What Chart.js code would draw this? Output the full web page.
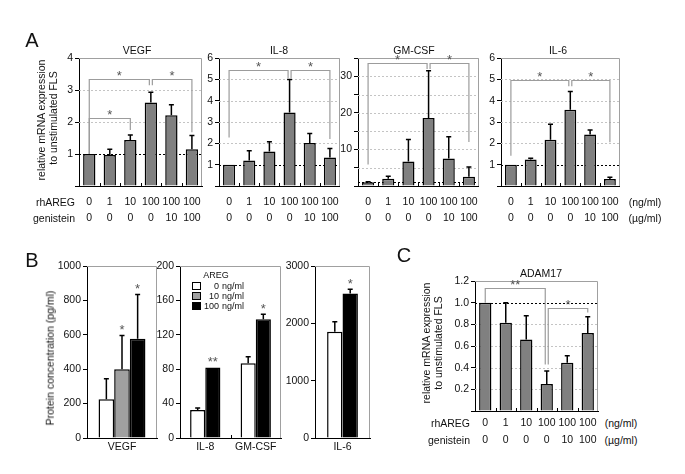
<!DOCTYPE html>
<html>
<head>
<meta charset="utf-8">
<title>AREG figure</title>
<script src="https://cdn.jsdelivr.net/npm/chart.js@4.4.1/dist/chart.umd.min.js"></script>
<style>
  html, body { margin: 0; padding: 0; background: #fff; }
  #fig { position: relative; width: 685px; height: 474px; overflow: hidden;
         font-family: Arial, "Liberation Sans", sans-serif; color: #111; }
  #fig canvas { position: absolute; }
  .txt { position: absolute; white-space: nowrap; line-height: 1; font-size: 10.5px; }
  .letter { font-size: 20px; }
  .small { font-size: 9px; }
  .key { position: absolute; width: 7px; height: 6px; border: 1px solid #000; }
</style>
</head>
<body>
<div id="fig"></div>
<script>
// ---- data: panel A / C (mRNA, fold of unstimulated FLS) ----
const rhAREG    = ['0', '1', '10', '100', '100', '100'];
const genistein = ['0', '0', '0', '0', '10', '100'];

const vegfMrna  = [1.0, 0.97, 1.44, 2.61, 2.21, 1.15];
const vegfSd    = [0, 0.18, 0.15, 0.32, 0.33, 0.43];
const il8Mrna   = [1.0, 1.19, 1.62, 3.44, 2.01, 1.34];
const il8Sd     = [0, 0.46, 0.45, 1.55, 0.45, 0.42];
const gmcsfMrna = [1.0, 2.0, 6.7, 18.6, 7.5, 2.55];
const gmcsfSd   = [0.15, 0.7, 6.0, 12.9, 6.0, 2.65];
const il6Mrna   = [1.0, 1.24, 2.17, 3.58, 2.41, 0.33];
const il6Sd     = [0, 0.06, 0.73, 0.85, 0.22, 0.08];
const adam17Mrna = [1.0, 0.815, 0.66, 0.25, 0.445, 0.72];
const adam17Sd   = [0, 0.185, 0.22, 0.12, 0.065, 0.15];

// significance brackets: [fromBar, toBar, topValue, fromEndValue, toEndValue, mark]
const vegfBrackets  = [[0, 3, 3.33, 1.0, 3.15, '*'], [3, 5, 3.33, 3.15, 1.68, '*'], [0, 2, 2.13, 1.0, 1.75, '*']];
const il8Brackets   = [[0, 3, 5.42, 2.27, 5.06, '*'], [3, 5, 5.42, 5.06, 2.2, '*']];
const gmcsfBrackets = [[0, 3, 33.6, 5.9, 32.0, '*'], [3, 5, 33.6, 32.0, 12.0, '*']];
const il6Brackets   = [[0, 3, 4.98, 1.42, 4.68, '*'], [3, 5, 4.98, 4.68, 2.05, '*']];
const adam17Brackets = [[0, 3, 1.14, 1.0, 0.43, '**'], [3, 5, 0.95, 0.43, 0.91, '*']];

// ---- data: panel B (protein, pg/ml) ----
const aregDoses = ['0', '10', '100'];
const protVegf0 = [225],  protVegf0Sd = [120];
const protVegf10 = [400], protVegf10Sd = [196];
const protVegf100 = [577], protVegf100Sd = [258];
const cytoNames = ['IL-8', 'GM-CSF'];
const protCyto0 = [32.5, 87],  protCyto0Sd = [2.5, 7.5];
const protCyto10 = [null, null];
const protCyto100 = [82, 138], protCyto100Sd = [0, 6];
const protIl6_0 = [1853], protIl6_0Sd = [175];
const protIl6_10 = [null];
const protIl6_100 = [2522], protIl6_100Sd = [72];

Chart.defaults.font.family = 'Arial, "Liberation Sans", sans-serif';
Chart.defaults.font.size = 10.5;
Chart.defaults.color = '#111';

const fig = document.getElementById('fig');
const YW = 40, PT = 12, PR = 4;

function text(str, x, y, cls, align, rotate) {
  const d = document.createElement('div');
  d.className = 'txt ' + (cls || '');
  d.textContent = str;
  d.style.left = x + 'px';
  d.style.top = y + 'px';
  const tx = align === 'right' ? '-100%' : align === 'left' ? '0' : '-50%';
  d.style.transform = 'translate(' + tx + ', -50%)' + (rotate ? ' rotate(-90deg)' : '');
  fig.appendChild(d);
}

// frame, grid, reference line, error bars, brackets and stars
function extras(cfg) {
  return {
    id: 'extras',
    beforeDatasetsDraw(chart) {
      const { ctx, chartArea: a, scales: { y } } = chart;
      ctx.save();
      if (cfg.grid) {
        ctx.strokeStyle = '#c4c4c4';
        ctx.lineWidth = 1;
        ctx.setLineDash([2, 2]);
        y.ticks.forEach(t => {
          if (t.value === 0 || t.value === cfg.ref) return;
          const yy = Math.round(y.getPixelForValue(t.value)) + 0.5;
          ctx.beginPath(); ctx.moveTo(a.left, yy); ctx.lineTo(a.right, yy); ctx.stroke();
        });
      }
      if (cfg.ref != null) {
        const yy = Math.round(y.getPixelForValue(cfg.ref)) + 0.5;
        ctx.strokeStyle = '#000';
        ctx.setLineDash([2, 2]);
        ctx.beginPath(); ctx.moveTo(a.left, yy); ctx.lineTo(a.right, yy); ctx.stroke();
      }
      ctx.restore();
    },
    afterDatasetsDraw(chart) {
      const { ctx, chartArea: a, scales: { x, y } } = chart;
      ctx.save();
      // grey top/right frame
      ctx.strokeStyle = '#a0a0a0';
      ctx.lineWidth = 1;
      ctx.beginPath();
      ctx.moveTo(a.left, Math.round(a.top) + 0.5);
      ctx.lineTo(Math.round(a.right) - 0.5, Math.round(a.top) + 0.5);
      ctx.lineTo(Math.round(a.right) - 0.5, a.bottom);
      ctx.stroke();

      // small inside ticks between categories
      ctx.strokeStyle = '#000';
      const n = chart.data.labels.length;
      for (let i = 1; i < n; i++) {
        const xx = Math.round((x.getPixelForValue(i - 1) + x.getPixelForValue(i)) / 2) + 0.5;
        ctx.beginPath(); ctx.moveTo(xx, a.bottom); ctx.lineTo(xx, a.bottom - 3); ctx.stroke();
      }

      // error bars (upper only) and significance marks
      chart.data.datasets.forEach((ds, di) => {
        const meta = chart.getDatasetMeta(di);
        meta.data.forEach((bar, i) => {
          if (ds.data[i] == null) return;
          const e = ds.err ? ds.err[i] : 0;
          const top = y.getPixelForValue(ds.data[i] + (e || 0));
          if (e) {
            ctx.strokeStyle = '#000';
            ctx.lineWidth = 1.5;
            ctx.beginPath();
            ctx.moveTo(bar.x, bar.y); ctx.lineTo(bar.x, top);
            ctx.moveTo(bar.x - 2.5, top); ctx.lineTo(bar.x + 2.5, top);
            ctx.stroke();
          }
          const s = ds.sig ? ds.sig[i] : '';
          if (s) {
            ctx.fillStyle = '#555';
            ctx.font = '13px Arial, "Liberation Sans", sans-serif';
            ctx.textAlign = 'center';
            ctx.textBaseline = 'alphabetic';
            ctx.fillText(s, bar.x, top - 8.5 + 0.57 * 13);
          }
        });
      });

      // brackets
      const br = cfg.brackets || [];
      br.forEach(b => {
        let xf = x.getPixelForValue(b[0]);
        let xt = x.getPixelForValue(b[1]);
        if (br.some(o => o !== b && o[0] === b[1])) xt -= 1.5;
        if (br.some(o => o !== b && o[1] === b[0])) xf += 1.5;
        const yt = Math.round(y.getPixelForValue(b[2])) + 0.5;
        ctx.strokeStyle = '#9c9c9c';
        ctx.lineWidth = 1.2;
        ctx.setLineDash([]);
        ctx.beginPath();
        ctx.moveTo(xf, y.getPixelForValue(b[3]));
        ctx.lineTo(xf, yt);
        ctx.lineTo(xt, yt);
        ctx.lineTo(xt, y.getPixelForValue(b[4]));
        ctx.stroke();
        ctx.fillStyle = '#555';
        ctx.font = '13px Arial, "Liberation Sans", sans-serif';
        ctx.textAlign = 'center';
        ctx.textBaseline = 'alphabetic';
        ctx.fillText(b[5], (xf + xt) / 2, yt - 6.5 + 0.57 * 13);
      });
      ctx.restore();
    }
  };
}

function makeChart(box, labels, datasets, yOpt, cfg) {
  const c = document.createElement('canvas');
  const left = box.l - YW, top = box.t - PT;
  const w = box.r - box.l + YW + PR, h = box.b - box.t + PT + cfg.xh;
  c.width = w; c.height = h;
  c.style.left = left + 'px'; c.style.top = top + 'px';
  c.style.width = w + 'px'; c.style.height = h + 'px';
  fig.appendChild(c);
  return new Chart(c, {
    type: 'bar',
    data: { labels, datasets },
    options: {
      responsive: false,
      animation: false,
      devicePixelRatio: 1,
      layout: { padding: { top: PT, right: PR, left: 0, bottom: 0 } },
      plugins: { legend: { display: false }, tooltip: { enabled: false } },
      datasets: { bar: { categoryPercentage: cfg.cat, barPercentage: cfg.barPct,
                         borderWidth: 1.5, borderColor: '#000', borderSkipped: 'bottom', skipNull: true } },
      scales: {
        x: {
          offset: true,
          grid: { display: false, drawTicks: false },
          border: { color: '#000', width: 1 },
          ticks: { padding: cfg.xpad, maxRotation: 0, autoSkip: false, color: '#111',
                   font: { size: 10.5, lineHeight: cfg.lh || 1.2 } },
          afterFit: s => { s.height = cfg.xh; }
        },
        y: {
          min: 0, max: yOpt.max,
          border: { color: '#000', width: 1 },
          grid: { drawOnChartArea: false, drawTicks: true, tickLength: 4, tickColor: '#000' },
          ticks: { stepSize: yOpt.step, padding: 2, color: '#111', font: { size: 10.5 }, callback: yOpt.fmt },
          afterFit: s => { s.width = YW; }
        }
      }
    },
    plugins: [extras(cfg)]
  });
}

// ---- panel A ----
const doseLabels = rhAREG.map((r, i) => [r, genistein[i]]);
const mrnaCfg = { xh: 44, xpad: 8, lh: 1.55, cat: 1, barPct: 0.6, grid: true, ref: 1 };
const noZero = v => (v === 0 ? '' : v);

function mrnaSet(vals, sd) {
  return [{ data: vals, err: sd, backgroundColor: '#808080' }];
}

makeChart({ l: 79, t: 58, r: 205, b: 186 }, doseLabels, mrnaSet(vegfMrna, vegfSd),
  { max: 4, step: 1, fmt: noZero }, Object.assign({ brackets: vegfBrackets }, mrnaCfg));
makeChart({ l: 219, t: 58, r: 343, b: 186 }, doseLabels, mrnaSet(il8Mrna, il8Sd),
  { max: 6, step: 1, fmt: noZero }, Object.assign({ brackets: il8Brackets }, mrnaCfg));
makeChart({ l: 358, t: 58, r: 482, b: 186 }, doseLabels, mrnaSet(gmcsfMrna, gmcsfSd),
  { max: 35, step: 5, fmt: v => (v > 0 && v % 10 === 0 ? v : '') }, Object.assign({ brackets: gmcsfBrackets }, mrnaCfg));
makeChart({ l: 501, t: 58, r: 623, b: 186 }, doseLabels, mrnaSet(il6Mrna, il6Sd),
  { max: 6, step: 1, fmt: noZero }, Object.assign({ brackets: il6Brackets }, mrnaCfg));

text('A', 32, 40, 'letter');
text('VEGF', 137, 50);
text('IL-8', 279, 50);
text('GM-CSF', 414, 50);
text('IL-6', 558, 50);
text('relative mRNA expression', 41, 120, '', 'center', true);
text('to unstimulated FLS', 53, 118, '', 'center', true);
text('rhAREG', 75, 202, '', 'right');
text('genistein', 75, 218, '', 'right');
text('(ng/ml)', 645, 202);
text('(\u00b5g/ml)', 645, 218);

// ---- panel B ----
const protCfg = { xh: 20, xpad: 2.5, barPct: 1, grid: false, ref: null };
const fills = ['#ffffff', '#a0a0a0', '#000000'];

makeChart({ l: 87, t: 266, r: 157, b: 438 }, ['VEGF'], [
  { label: aregDoses[0], data: protVegf0, err: protVegf0Sd, backgroundColor: fills[0] },
  { label: aregDoses[1], data: protVegf10, err: protVegf10Sd, backgroundColor: fills[1], sig: ['*'] },
  { label: aregDoses[2], data: protVegf100, err: protVegf100Sd, backgroundColor: fills[2], sig: ['*'] }
], { max: 1000, step: 200 }, Object.assign({ cat: 0.67 }, protCfg));

makeChart({ l: 180, t: 266, r: 281, b: 438 }, cytoNames, [
  { label: aregDoses[0], data: protCyto0, err: protCyto0Sd, backgroundColor: fills[0] },
  { label: aregDoses[1], data: protCyto10, backgroundColor: fills[1] },
  { label: aregDoses[2], data: protCyto100, err: protCyto100Sd, backgroundColor: fills[2], sig: ['**', '*'] }
], { max: 200, step: 40 }, Object.assign({ cat: 0.6 }, protCfg));

makeChart({ l: 315, t: 266, r: 370, b: 438 }, ['IL-6'], [
  { label: aregDoses[0], data: protIl6_0, err: protIl6_0Sd, backgroundColor: fills[0] },
  { label: aregDoses[1], data: protIl6_10, backgroundColor: fills[1] },
  { label: aregDoses[2], data: protIl6_100, err: protIl6_100Sd, backgroundColor: fills[2], sig: ['*'] }
], { max: 3000, step: 1000 }, Object.assign({ cat: 0.56 }, protCfg));

text('B', 32, 260, 'letter');
text('Protein concentration (pg/ml)', 50, 358, '', 'center', true);
text('AREG', 216, 275, 'small');
aregDoses.forEach((d, i) => {
  const k = document.createElement('div');
  k.className = 'key';
  k.style.left = '192px';
  k.style.top = (282 + i * 10) + 'px';
  k.style.background = fills[i];
  fig.appendChild(k);
  text(d, 219, 286 + i * 10, 'small', 'right');
  text('ng/ml', 222, 286 + i * 10, 'small', 'left');
});

// ---- panel C ----
makeChart({ l: 475, t: 281, r: 598, b: 411 }, doseLabels, mrnaSet(adam17Mrna, adam17Sd),
  { max: 1.2, step: 0.2, fmt: v => (v === 0 ? '' : v.toFixed(1)) },
  { xh: 40, xpad: 3.5, lh: 1.6, cat: 1, barPct: 0.6, grid: true, ref: 1, brackets: adam17Brackets });

text('C', 404, 255, 'letter');
text('ADAM17', 541, 273);
text('relative mRNA expression', 426, 343, '', 'center', true);
text('to unstimulated FLS', 438, 343, '', 'center', true);
text('rhAREG', 470, 423, '', 'right');
text('genistein', 470, 440, '', 'right');
text('(ng/ml)', 621, 423);
text('(\u00b5g/ml)', 621, 440);
</script>
</body>
</html>
